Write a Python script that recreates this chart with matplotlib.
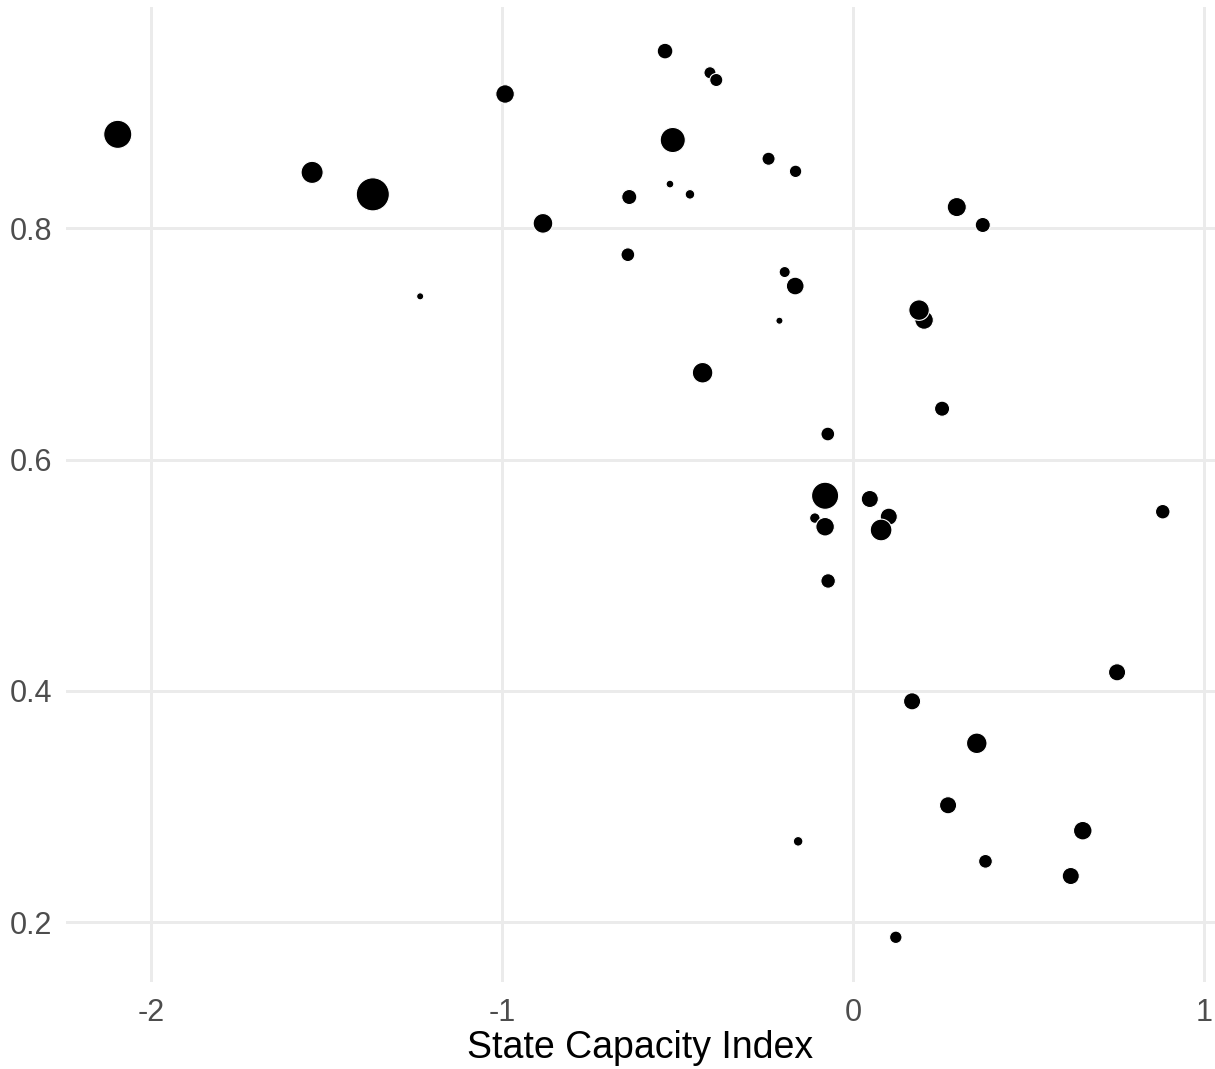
import matplotlib
matplotlib.use("Agg")
import matplotlib.pyplot as plt
import numpy as np

# State Capacity Index (x), outcome share (y), and point-size variable
state_capacity = [-2.096, -1.542, -1.369, -1.234, -0.992, -0.884, -0.536, -0.408, -0.390,
                  -0.514, -0.638, -0.522, -0.465, -0.642, -0.429, -0.241, -0.164, -0.195,
                  -0.165, -0.210, 0.2955, 0.3696, 0.2023, 0.188, 0.2536, -0.0721, -0.0798,
                  0.0476, 0.1017, 0.0798, -0.109, -0.0798, -0.0712, 0.8826, 0.7524, 0.1681,
                  0.3525, 0.2707, 0.6546, 0.3773, 0.6204, -0.1567, 0.1217]
outcome = [0.8813, 0.8484, 0.8294, 0.7412, 0.9162, 0.8043, 0.9533, 0.9346, 0.9283,
           0.8764, 0.8271, 0.8383, 0.8294, 0.7772, 0.6751, 0.8602, 0.8493, 0.7622,
           0.7501, 0.7201, 0.8184, 0.8029, 0.7207, 0.7293, 0.6440, 0.6221, 0.5687,
           0.5659, 0.5506, 0.5391, 0.5494, 0.5419, 0.4950, 0.5549, 0.4160, 0.3909,
           0.3546, 0.3010, 0.2790, 0.2525, 0.2398, 0.2698, 0.1868]
weight = [182, 110, 256, 9, 76, 86, 53, 30, 36,
          144, 49, 11, 18, 40, 94, 36, 32, 25,
          69, 9, 81, 49, 76, 94, 49, 40, 169,
          64, 64, 106, 22, 76, 45, 45, 64, 64,
          94, 64, 76, 40, 64, 18, 32]

x_ticks = [-2, -1, 0, 1]
y_ticks = [0.2, 0.4, 0.6, 0.8]
x_label = "State Capacity Index"

plt.rcParams['font.family'] = ['Liberation Sans', 'DejaVu Sans']

W, H = 1215, 1069
fig = plt.figure(figsize=(W / 100, H / 100), dpi=100)
ax = fig.add_axes([65.5 / W, 1 - 981.6 / H, (1215 - 65.5) / W, (981.6 - 6.8) / H])

x = np.array(state_capacity)
y = np.array(outcome)
w = np.array(weight)

xr = x.max() - x.min()
yr = y.max() - y.min()
ax.set_xlim(x.min() - 0.05 * xr, x.max() + 0.05 * xr)
ax.set_ylim(y.min() - 0.05 * yr, y.max() + 0.05 * yr)

# marker area scaled from weight (area ~ weight)
s = (2 * np.sqrt(w) * 0.72 + 0.8) ** 2
ax.scatter(x, y, s=s, c='black', edgecolors='white', linewidths=0.8, zorder=3)

ax.set_xticks(x_ticks)
ax.set_yticks(y_ticks)
ax.set_xticklabels([str(t) for t in x_ticks])
ax.set_yticklabels([f"{t:.1f}" for t in y_ticks])
ax.grid(True, color='#EBEBEB', linewidth=2.1, zorder=0)
ax.set_axisbelow(True)
for sp in ax.spines.values():
    sp.set_visible(False)
ax.tick_params(axis='both', length=0, labelsize=22, labelcolor='#4D4D4D')
ax.tick_params(axis='x', pad=11.5)
ax.tick_params(axis='y', pad=9.5)
ax.set_xlabel(x_label, fontsize=27, color='black', labelpad=2)

fig.savefig("out.png", dpi=100, facecolor='white')
